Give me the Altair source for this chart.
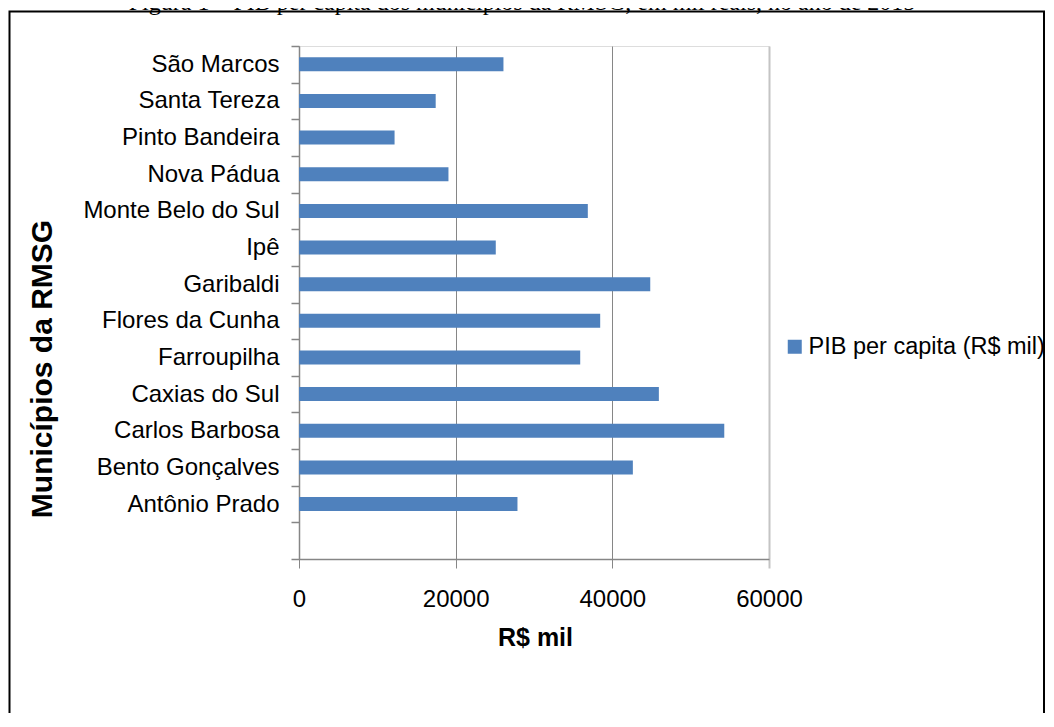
import altair as alt
import pandas as pd

# Data (top to bottom as shown)
municipios = ["São Marcos", "Santa Tereza", "Pinto Bandeira", "Nova Pádua",
              "Monte Belo do Sul", "Ipê", "Garibaldi", "Flores da Cunha",
              "Farroupilha", "Caxias do Sul", "Carlos Barbosa",
              "Bento Gonçalves", "Antônio Prado"]
pib = [26100, 17450, 12200, 19080, 36870, 25120, 44840, 38450,
       35900, 45940, 54290, 42620, 27890]
serie = "PIB per capita (R$ mil)"
x_ticks = [0, 20000, 40000, 60000]
titulo_figura = "Figura 1 – PIB per capita dos municípios da RMSG, em mil reais, no ano de 2015"

df = pd.DataFrame({"municipio": municipios, "pib": pib, "serie": [serie] * len(municipios)})
domain = municipios + [" "]

FONT = "Liberation Sans"
GRAY = "#868686"
LIGHT = "#c4c4c4"

last_tick = alt.datum.value == 60000

bars = alt.Chart(df).mark_bar(size=14, color="#4F81BD").encode(
    x=alt.X("pib:Q",
            scale=alt.Scale(domain=[0, 60000], nice=False, zero=True),
            axis=alt.Axis(values=x_ticks, format="d", title="R$ mil",
                          grid=True,
                          gridColor=alt.condition(last_tick, alt.value(LIGHT), alt.value(GRAY)),
                          gridWidth=alt.condition(last_tick, alt.value(2), alt.value(1)),
                          domainColor=GRAY, domainWidth=1.5,
                          tickColor=alt.condition(last_tick, alt.value(LIGHT), alt.value(GRAY)),
                          tickWidth=alt.condition(last_tick, alt.value(2), alt.value(1)),
                          tickSize=9,
                          labelFont=FONT, labelFontSize=24, labelColor="black",
                          labelPadding=19, labelFlush=False, labelOverlap=False,
                          titleFont=FONT, titleFontSize=25, titleFontWeight="bold",
                          titleColor="black", titleX=236, titleY=86,
                          titleBaseline="alphabetic", titleAlign="center")),
    y=alt.Y("municipio:N",
            scale=alt.Scale(domain=domain, paddingInner=0, paddingOuter=0),
            axis=alt.Axis(title="Municípios da RMSG", tickBand="extent",
                          grid=False, domainColor=GRAY, domainWidth=1.5,
                          tickColor=GRAY, tickSize=8, tickWidth=1.5,
                          labelFont=FONT, labelFontSize=24, labelColor="black",
                          labelPadding=12, labelBaseline="middle",
                          labelOverlap=False, labelLimit=400,
                          titleFont=FONT, titleFontSize=30, titleFontWeight="bold",
                          titleColor="black", titleAngle=270, titleX=-256.5,
                          titleY=322.5, titleAlign="center", titleBaseline="middle")),
    color=alt.Color("serie:N",
                    scale=alt.Scale(domain=[serie], range=["#4F81BD"]),
                    legend=alt.Legend(title=None, orient="none", legendX=484,
                                      legendY=289, symbolType="square",
                                      symbolSize=196, symbolStrokeWidth=0,
                                      labelFont=FONT, labelFontSize=23.5,
                                      labelColor="black", labelOffset=2,
                                      padding=0, labelLimit=400)),
)

one = pd.DataFrame({"t": [titulo_figura]})

border = alt.Chart(one).mark_rect(fill=None, stroke="black", strokeWidth=2).encode(
    x=alt.value(-289.5), x2=alt.value(745),
    y=alt.value(-34.5), y2=alt.value(700),
)

heading = alt.Chart(one).mark_text(font="Liberation Serif", fontSize=24,
                                   align="center", baseline="alphabetic",
                                   color="black").encode(
    text="t:N", x=alt.value(223), y=alt.value(-36),
)

chart = alt.layer(bars, border, heading).properties(
    width=470, height=513,
    padding={"left": 291, "top": 38, "right": 277, "bottom": 154},
    autosize=alt.AutoSizeParams(type="none"),
).configure_view(stroke=None).configure(background="white")

chart.save("out.html", embed_options={"renderer": "svg", "actions": False})
